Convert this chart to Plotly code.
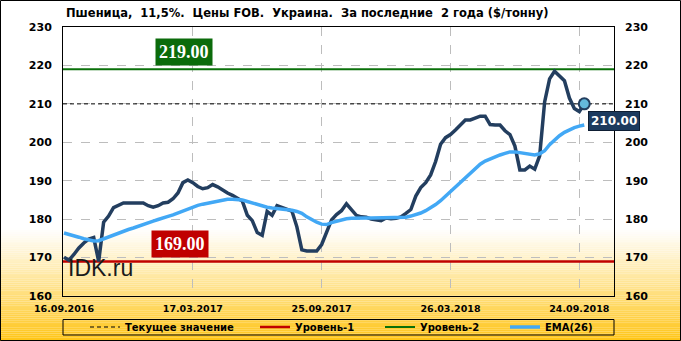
import plotly.graph_objects as go

# ---------------- data ----------------
tick_idx = [0, 26, 52, 78, 104]
tick_labels = ["16.09.2016", "17.03.2017", "25.09.2017", "26.03.2018", "24.09.2018"]

price = [170.1, 169.3, 170.8, 172.5, 173.8, 174.8, 175.2, 169.0, 179.2, 180.8,
         183.0, 183.5, 184.2, 184.2, 184.2, 184.2, 184.2, 183.5, 183.1, 183.5,
         184.2, 184.4, 185.3, 186.8, 189.5, 190.2, 189.5, 188.5, 187.9, 188.2,
         189.0, 188.4, 187.5, 186.8, 186.2, 185.5, 184.7, 181.0, 179.6, 176.5,
         175.8, 182.0, 181.0, 183.5, 183.0, 182.4, 182.1, 178.0, 172.0, 171.7,
         171.7, 171.7, 173.4, 176.8, 179.8, 181.2, 182.2, 184.0, 182.5, 181.0,
         180.6, 180.5, 180.0, 179.7, 179.6, 180.3, 180.1, 180.2, 180.6, 181.5,
         182.5, 186.0, 188.2, 189.5, 191.5, 195.0, 199.5, 201.2, 202.0, 203.2,
         204.5, 205.8, 205.8, 206.4, 206.8, 206.8, 204.6, 204.5, 204.5, 203.0,
         202.0, 199.0, 192.8, 192.8, 193.8, 193.0, 196.5, 210.5, 216.5, 218.5,
         217.2, 216.0, 211.5, 208.8, 208.0, 210.0]

ema = [176.4, 176.1, 175.7, 175.3, 174.9, 174.5, 174.3, 174.4, 174.9, 175.5,
       176.0, 176.4, 176.9, 177.3, 177.7, 178.2, 178.7, 179.1, 179.5, 179.9,
       180.2, 180.7, 181.1, 181.6, 182.2, 182.8, 183.3, 183.6, 183.9, 184.2,
       184.5, 184.8, 185.1, 185.2, 185.2, 185.2, 185.0, 184.6, 184.2, 183.8,
       183.4, 183.1, 182.9, 182.8, 182.6, 182.5, 182.3, 182.0, 181.5, 180.6,
       179.8, 179.2, 178.7, 178.6, 179.1, 179.5, 179.8, 180.1, 180.2, 180.3,
       180.3, 180.3, 180.3, 180.3, 180.3, 180.3, 180.3, 180.3, 180.3, 180.5,
       180.8, 181.1, 181.6, 182.2, 182.9, 183.8, 184.8, 186.0, 187.3, 188.4,
       189.6, 190.7, 192.1, 193.2, 194.3, 195.1, 195.7, 196.2, 196.7, 197.1,
       197.5, 197.5, 197.3, 197.1, 196.9, 196.7, 197.0, 197.8, 199.4, 200.6,
       201.7, 202.6, 203.3, 203.8, 204.2, 204.5]

x_idx = list(range(len(price)))
current_value = 210.0
level1 = 169.0
level2 = 219.0
y_ticks = [160, 170, 180, 190, 200, 210, 220, 230]

# ---------------- geometry helpers ----------------
W, H = 681, 341
L, R, T, B = 63, 67, 27, 45
PW, PH = W - L - R, H - T - B
X_RANGE = [-0.2, 111.0]


def px(xp):
    return (xp - L) / PW


def py(yp):
    return (H - B - yp) / PH


FONT = "DejaVu Sans"
NAVY = "rgb(35,62,95)"
BLUE = "rgb(66,168,245)"
RED = "#C00000"
GREEN = "#0A700A"

fig = go.Figure()

xr = [X_RANGE[0], X_RANGE[1]]
fig.add_trace(go.Scatter(x=xr, y=[current_value] * 2, mode="lines",
                         line=dict(color="black", width=1, dash="4px,3px"),
                         name="Текущее значение", legend="legend", hoverinfo="skip"))
fig.add_trace(go.Scatter(x=xr, y=[level1] * 2, mode="lines",
                         line=dict(color=RED, width=2.5),
                         name="Уровень-1", legend="legend2", hoverinfo="skip"))
fig.add_trace(go.Scatter(x=xr, y=[level2] * 2, mode="lines",
                         line=dict(color=GREEN, width=2),
                         name="Уровень-2", legend="legend3", hoverinfo="skip"))
fig.add_trace(go.Scatter(x=x_idx, y=price, mode="lines",
                         line=dict(color=NAVY, width=3.5),
                         showlegend=False, name="Цена"))
fig.add_trace(go.Scatter(x=x_idx, y=ema, mode="lines",
                         line=dict(color=BLUE, width=3.5),
                         name="EMA(26)", legend="legend4"))
fig.add_trace(go.Scatter(x=[x_idx[-1]], y=[price[-1]], mode="markers",
                         marker=dict(size=11, color="rgb(100,185,220)",
                                     line=dict(color=NAVY, width=2)),
                         showlegend=False, hoverinfo="skip"))
# invisible trace for the right axis
fig.add_trace(go.Scatter(x=[0], y=[160], yaxis="y2", mode="markers",
                         marker=dict(opacity=0), showlegend=False, hoverinfo="skip"))

shapes = []
# gradient background
g0, g1 = 228, 341
n = 60
for k in range(n):
    ya = g0 + (g1 - g0) * k / n
    yb = g0 + (g1 - g0) * (k + 1) / n
    t = ((k + 0.5) / n) ** 1.1
    r = 255
    g = round(255 - (255 - 196) * t)
    b = round(255 - (255 - 20) * t)
    shapes.append(dict(type="rect", xref="paper", yref="paper", layer="below",
                       x0=px(0), x1=px(W), y0=py(yb), y1=py(ya),
                       line=dict(width=0), fillcolor=f"rgb({r},{g},{b})"))
# outer border
shapes.append(dict(type="rect", xref="paper", yref="paper", layer="above",
                   x0=px(0.5), x1=px(W - 0.5), y0=py(H - 0.5), y1=py(0.5),
                   line=dict(color="black", width=1)))
# legend box
shapes.append(dict(type="rect", xref="paper", yref="paper", layer="above",
                   x0=0, x1=1, y0=py(335), y1=py(319.5),
                   line=dict(color="black", width=1)))

annotations = [
    dict(text="Пшеница,\u00a0 11,5%.\u00a0 Цены FOB.\u00a0 Украина.\u00a0 За последние\u00a0 2 года ($/тонну)",
         xref="paper", yref="paper", x=px(64), y=py(13), xanchor="left", yanchor="middle",
         showarrow=False, font=dict(family=FONT, size=11.5, color="black", weight="bold")),
    dict(text="219.00", xref="paper", yref="paper", x=px(184), y=py(52),
         xanchor="center", yanchor="middle", showarrow=False, bgcolor="#0B6B0B",
         borderpad=3, font=dict(family="Liberation Serif", size=18, color="white", weight="bold")),
    dict(text="169.00", xref="paper", yref="paper", x=px(180), y=py(244),
         xanchor="center", yanchor="middle", showarrow=False, bgcolor="#C00000",
         borderpad=3, font=dict(family="Liberation Serif", size=18, color="white", weight="bold")),
    dict(text="210.00", xref="paper", yref="paper", x=px(614), y=py(121),
         xanchor="center", yanchor="middle", showarrow=False, bgcolor="#1C3A5E",
         bordercolor="#0E1E33", borderwidth=1, borderpad=2,
         font=dict(family=FONT, size=12, color="white", weight="bold")),
    dict(text="IDK.ru", xref="paper", yref="paper", x=px(66), y=py(268),
         xanchor="left", yanchor="middle", showarrow=False,
         font=dict(family="Liberation Sans", size=23, color="#1a1a1a")),
]

leg_font = dict(family=FONT, size=10, color="black", weight="bold")
def leg(xp):
    return dict(x=px(xp), y=py(327), xanchor="left", yanchor="middle",
                orientation="h", bgcolor="rgba(0,0,0,0)", borderwidth=0,
                font=leg_font, itemwidth=30, tracegroupgap=0)

fig.update_layout(
    width=W, height=H,
    margin=dict(l=L, r=R, t=T, b=B, autoexpand=False),
    paper_bgcolor="white", plot_bgcolor="rgba(0,0,0,0)",
    showlegend=True,
    legend=leg(85), legend2=leg(255), legend3=leg(380), legend4=leg(505),
    shapes=shapes, annotations=annotations,
    xaxis=dict(range=X_RANGE, tickvals=tick_idx, ticktext=tick_labels,
               showgrid=True, gridcolor="#BDBDBD", griddash="dash", gridwidth=1,
               showline=True, linecolor="black", linewidth=1, mirror=True,
               ticks="", zeroline=False, automargin=False, ticklabelstandoff=4,
               tickfont=dict(family=FONT, size=9.5, color="black", weight="bold")),
    yaxis=dict(range=[160, 230], tickvals=y_ticks,
               showgrid=True, gridcolor="#BDBDBD", griddash="dash", gridwidth=1,
               showline=True, linecolor="black", linewidth=1, mirror=True,
               ticks="", zeroline=False, ticklabelstandoff=8, automargin=False,
               tickfont=dict(family=FONT, size=11, color="black", weight="bold")),
    yaxis2=dict(range=[160, 230], tickvals=y_ticks, overlaying="y", side="right",
                showgrid=False, showline=False, ticks="", zeroline=False,
                ticklabelstandoff=10, automargin=False,
                tickfont=dict(family=FONT, size=11, color="black", weight="bold")),
)

fig.write_html("out.html")
